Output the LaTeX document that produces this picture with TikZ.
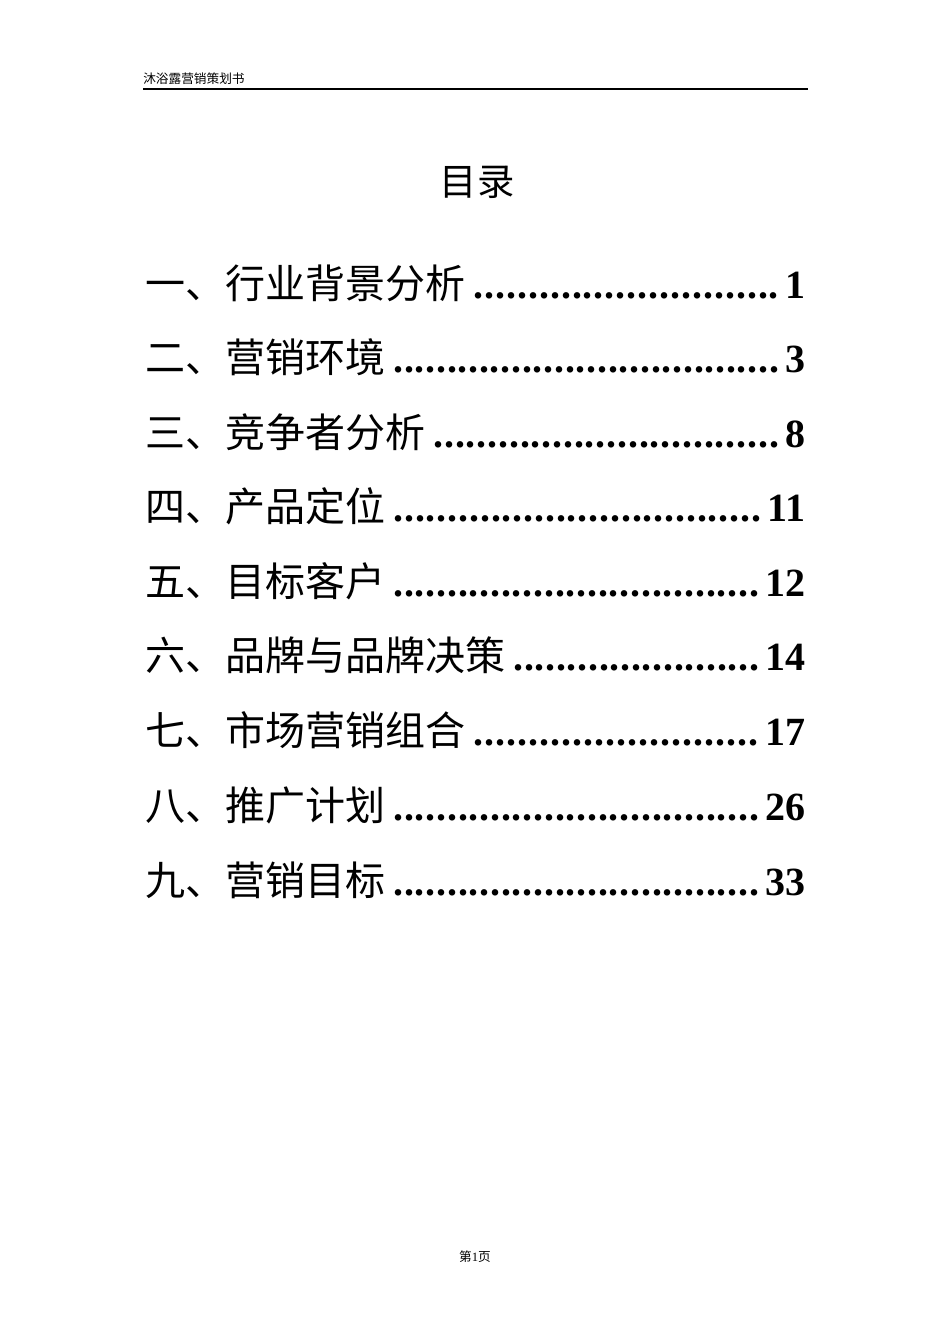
\documentclass[tikz,border=0pt]{standalone}
\usepackage{fontspec}
\setmainfont{Liberation Serif}
\newfontfamily\cjk{Noto Sans CJK SC}
\newcommand{\tocdots}{\xleaders\hbox{\bfseries.\kern0.5pt}\hfill}
\begin{document}
\begin{tikzpicture}[x=0.75pt,y=-0.75pt,
  entry/.style={anchor=west,inner sep=0pt,text width=495pt,font=\fontsize{30}{30}\selectfont},
  small/.style={inner sep=0pt,font=\cjk\fontsize{9.5}{10}\selectfont}]
\useasboundingbox (0,0) rectangle (950,1344);
\fill[white] (0,0) rectangle (950,1344);
\node[small,anchor=west] (hdr) at (143,79) {沐浴露营销策划书};
\coordinate (l1) at (143,89); \coordinate (l2) at (808,89);
\draw[line width=0.8pt] (l1) -- (l2);
\node[inner sep=0pt,font=\cjk\fontsize{28}{28}\selectfont] (title) at (477,182) {目录};
\foreach \t/\p/\y [count=\i] in {一、行业背景分析/1/283,二、营销环境/3/357,三、竞争者分析/8/432,四、产品定位/11/506,五、目标客户/12/581,六、品牌与品牌决策/14/655,七、市场营销组合/17/730,八、推广计划/26/805,九、营销目标/33/880}
  \node[entry] (e\i) at (145,\y) {{\cjk \t}\kern6pt\tocdots\kern4pt\textbf{\p}};
\node[small] (ftr) at (475,1257) {第\textrm{1}页};
\end{tikzpicture}
\end{document}
